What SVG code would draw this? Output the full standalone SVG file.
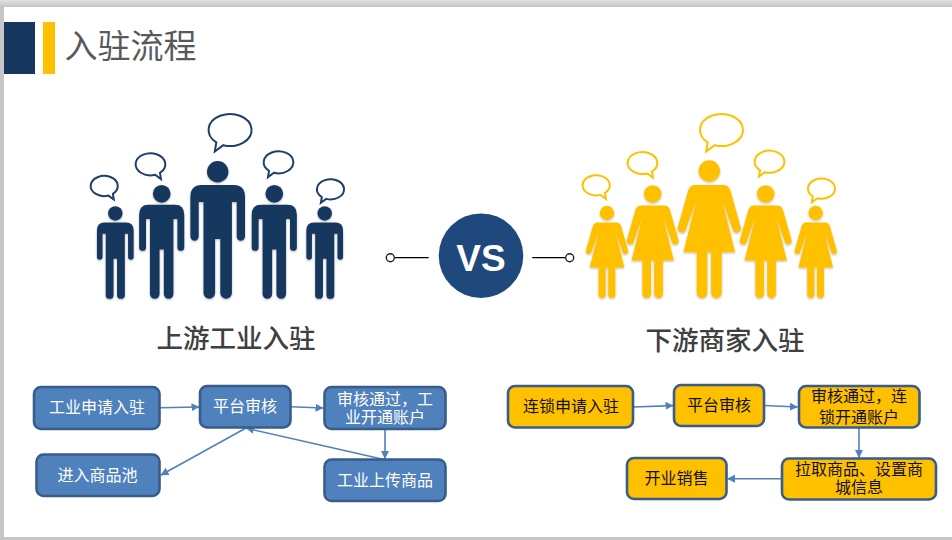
<svg xmlns="http://www.w3.org/2000/svg" xmlns:xlink="http://www.w3.org/1999/xlink" width="952" height="540" viewBox="0 0 952 540">
<style>
.cjk{font-family:"Noto Sans CJK SC","Noto Sans",sans-serif}
.n rect{stroke:#385D8A;stroke-width:2.6}
.blue rect{fill:#4F81BD}
.gold rect{fill:#FFC000}
.n text{font-size:16px;text-anchor:middle;font-family:"Noto Sans CJK SC","Noto Sans",sans-serif}
.blue text{fill:#fff}
.gold text{fill:#111}
.c path{fill:none;stroke:#4F81BD;stroke-width:1.6;marker-end:url(#a)}
.h{font-size:26.5px;font-weight:500;fill:#404040;text-anchor:middle;font-family:"Noto Sans CJK SC","Noto Sans",sans-serif}
.bub{fill:#fff;stroke-width:2;vector-effect:non-scaling-stroke}
.navy{fill:#17375E}
.yel{fill:#FFC000}
.bn{stroke:#1F3F6B}
.by{stroke:#FFC000}
</style>
<defs>
<linearGradient id="top" x1="0" y1="0" x2="0" y2="1"><stop offset="0" stop-color="#e2e2e2"/><stop offset="1" stop-color="#c4c4c4"/></linearGradient>
<filter id="s" x="-10%" y="-10%" width="120%" height="120%"><feGaussianBlur in="SourceAlpha" stdDeviation="1.2"/><feOffset dy="0.5"/><feComponentTransfer><feFuncA type="linear" slope="0.3"/></feComponentTransfer><feMerge><feMergeNode/><feMergeNode in="SourceGraphic"/></feMerge></filter>
<marker id="a" markerUnits="userSpaceOnUse" markerWidth="9" markerHeight="9" refX="7.5" refY="4" orient="auto"><path d="M0,0L8,4L0,8Z" fill="#4F81BD"/></marker>
<g id="man"><circle cx="0" cy="-127.3" r="10.7"/><path d="M-16,-114H16Q27.3,-114 27.3,-102V-62.5A4.15,4.15 0 0 1 19,-62.5V-97H14.2V-6A5.8,5.8 0 0 1 2.6,-6V-60H-2.6V-6A5.8,5.8 0 0 1 -14.2,-6V-97H-19V-62.5A4.15,4.15 0 0 1 -27.3,-62.5V-102Q-27.3,-114 -16,-114Z"/></g>
<g id="woman"><circle cx="0" cy="-127.3" r="10.7"/><path d="M-14,-113.3H14Q19,-113.3 21,-108L31.6,-70.5A4.3,4.3 0 0 1 23.8,-67.5L13,-98L25.8,-46H12.4V-5.500A5.2,5.2 0 0 1 1.8,-5.500V-46H-2V-5.500A5.3,5.3 0 0 1 -12.6,-5.500V-46H-25.8L-13,-98L-23.8,-67.5A4.3,4.3 0 0 1 -31.6,-70.5L-21,-108Q-19,-113.3 -14,-113.3Z"/></g>
<path id="bub" class="bub" d="M-6,15.2A21.5,16 0 1 0 -13,12.3L-14.5,21.5Z"/>
</defs>

<rect width="952" height="540" fill="#c6c6c6"/>
<rect width="952" height="7" fill="url(#top)"/>
<rect x="4" y="7" width="948" height="530" fill="#fff"/>

<g id="title">
<rect x="4" y="22" width="31" height="52" fill="#17375E"/>
<rect x="43" y="22" width="12" height="52" fill="#FFC000"/>
<text x="64.500" y="58" class="cjk" font-size="33" fill="#595959">入驻流程</text>
</g>

<g id="men" class="navy" filter="url(#s)">
<use xlink:href="#man" href="#man" transform="translate(217.7 299)"/>
<use xlink:href="#man" href="#man" transform="translate(161.7 299) scale(.826)"/>
<use xlink:href="#man" href="#man" transform="translate(274.3 299) scale(.826)"/>
<use xlink:href="#man" href="#man" transform="translate(115.3 299) scale(.672)"/>
<use xlink:href="#man" href="#man" transform="translate(324.7 299) scale(.672)"/>
</g>
<g id="men-bubbles" class="bn">
<use xlink:href="#bub" href="#bub" transform="translate(229.3 130)" stroke-width="2.400"/>
<use xlink:href="#bub" href="#bub" transform="translate(151 164.3) scale(-.69 .69)"/>
<use xlink:href="#bub" href="#bub" transform="translate(104.7 186) scale(-.63 .63)"/>
<use xlink:href="#bub" href="#bub" transform="translate(278 162.3) scale(.69)"/>
<use xlink:href="#bub" href="#bub" transform="translate(330 189.3) scale(.63)"/>
</g>

<g id="women" class="yel" filter="url(#s)">
<use xlink:href="#woman" href="#woman" transform="translate(709.3 298.3)"/>
<use xlink:href="#woman" href="#woman" transform="translate(652.7 298.3) scale(.82)"/>
<use xlink:href="#woman" href="#woman" transform="translate(765.7 298.3) scale(.82)"/>
<use xlink:href="#woman" href="#woman" transform="translate(607 298.3) scale(.67)"/>
<use xlink:href="#woman" href="#woman" transform="translate(815.7 298.3) scale(.67)"/>
</g>
<g id="women-bubbles" class="by">
<use xlink:href="#bub" href="#bub" transform="translate(720.7 130)"/>
<use xlink:href="#bub" href="#bub" transform="translate(643 163) scale(-.69 .69)"/>
<use xlink:href="#bub" href="#bub" transform="translate(596.7 185.3) scale(-.63 .63)"/>
<use xlink:href="#bub" href="#bub" transform="translate(769 161.7) scale(.69)"/>
<use xlink:href="#bub" href="#bub" transform="translate(821 188.7) scale(.63)"/>
</g>

<g id="vs">
<path d="M394.3,257.7H428.7M532.3,257.7H565.7" stroke="#000" stroke-width="1.2" fill="none"/>
<circle cx="390.3" cy="257.7" r="4" fill="#fff" stroke="#222" stroke-width="1.4"/>
<circle cx="569.7" cy="257.7" r="4" fill="#fff" stroke="#222" stroke-width="1.4"/>
<circle cx="481" cy="255.7" r="42.3" fill="#1F497D"/>
<text x="481" y="270.500" font-family="'Liberation Sans',Arial,sans-serif" font-weight="700" font-size="37" fill="#fff" text-anchor="middle">VS</text>
</g>

<text class="h" x="236" y="348">上游工业入驻</text>
<text class="h" x="725" y="350">下游商家入驻</text>

<g id="connectors" class="c">
<path d="M160,407.8L199,407"/>
<path d="M291,406.8L323,408"/>
<path d="M385,429V458.5"/>
<path d="M384,459.5L246.5,428.3"/>
<path d="M246,428L161,475"/>
<path d="M633,407L673,405.6"/>
<path d="M764,405.5L797.5,407"/>
<path d="M859,428V457.5"/>
<path d="M782,478.7H727.5"/>
</g>

<g id="n1" class="n blue"><rect x="34" y="387" width="125.500" height="42" rx="7"/><text x="97" y="413">工业申请入驻</text></g>
<g id="n2" class="n blue"><rect x="200" y="386" width="90.500" height="41.500" rx="7"/><text x="245" y="412">平台审核</text></g>
<g id="n3" class="n blue"><rect x="324.500" y="387" width="121" height="42" rx="7"/><text x="385" y="404.500">审核通过，工<tspan x="385" dy="18.500">业开通账户</tspan></text></g>
<g id="n4" class="n blue"><rect x="36.500" y="454.500" width="123" height="41.500" rx="7"/><text x="97.500" y="481">进入商品池</text></g>
<g id="n5" class="n blue"><rect x="324.500" y="459.500" width="121" height="41.500" rx="7"/><text x="385" y="486">工业上传商品</text></g>

<g id="n6" class="n gold"><rect x="508" y="386" width="125" height="41.500" rx="7"/><text x="571" y="412">连锁申请入驻</text></g>
<g id="n7" class="n gold"><rect x="674" y="385" width="90" height="41" rx="7"/><text x="719" y="411">平台审核</text></g>
<g id="n8" class="n gold"><rect x="799" y="386" width="120.500" height="41.500" rx="7"/><text x="859" y="402">审核通过，连<tspan x="859" dy="20.500">锁开通账户</tspan></text></g>
<g id="n9" class="n gold"><rect x="627" y="458" width="99.500" height="41" rx="7"/><text x="676.500" y="484">开业销售</text></g>
<g id="n10" class="n gold"><rect x="782" y="458.500" width="154" height="41" rx="7"/><text x="859" y="474.500">拉取商品、设置商<tspan x="859" dy="18.500">城信息</tspan></text></g>
</svg>
